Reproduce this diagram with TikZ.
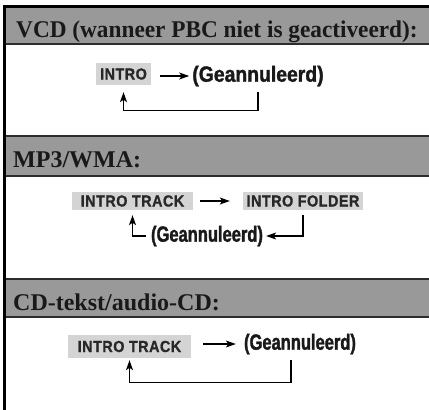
\documentclass[tikz,border=0pt]{standalone}
\usepackage{fontspec}
\setmainfont{Liberation Serif}
\newfontfamily\titleserif[FakeStretch=0.97]{Liberation Serif Bold}
\newfontfamily\condsans[FakeStretch=0.75, FakeBold=1.5]{Liberation Sans Bold}
\newfontfamily\midsans[FakeStretch=0.88, FakeBold=1.5]{Liberation Sans Bold}
\newfontfamily\boxsans[FakeStretch=0.9, FakeBold=1, LetterSpace=3]{Liberation Sans Bold}
\usepackage{xcolor}
\usepackage{tikz}
\usetikzlibrary{arrows.meta, positioning, calc}
\definecolor{headgray}{RGB}{153,153,153}
\definecolor{boxgray}{RGB}{212,212,212}
\definecolor{rulegray}{RGB}{45,45,45}
\definecolor{inkgray}{RGB}{40,40,40}

\begin{document}
\begin{tikzpicture}[x=1pt, y=-1pt,
    header/.style={fill=headgray, draw=rulegray, line width=1.6pt},
    title/.style={anchor=base west, inner sep=0pt, text=black!90, font=\fontsize{24}{24}\selectfont\bfseries},
    mode/.style={fill=boxgray, inner sep=0pt, text=inkgray, font=\boxsans\fontsize{16}{16}\selectfont},
    state/.style={inner sep=0pt, text=black!90, font=\condsans\fontsize{22}{22}\selectfont},
    flow/.style={line width=1.2pt, -{Stealth[length=10pt, width=7pt, inset=2.5pt]}},
    ]
\useasboundingbox (0,0) rectangle (429,410);
\clip (0,0) rectangle (429,410);

\draw[header] (5,7) rectangle (435,44);
\draw[header] (5,136) rectangle (435,176);
\draw[header] (5,279) rectangle (435,317);
\draw[line width=2.4pt] (4.5,412) -- (4.5,6.5) -- (435,6.5);

\node[title, font=\titleserif\fontsize{24}{24}\selectfont] (vcd) at (16,37) {VCD (wanneer PBC niet is geactiveerd):};
\node[title] (mp3) at (13,167) {MP3/WMA:};
\node[title] (cdtext) at (13,310) {CD-tekst/audio-CD:};

% VCD
\node[mode, minimum width=55pt, minimum height=22pt] (intro) at (123.5,74) {INTRO};
\node[state, font=\midsans\fontsize{22}{22}\selectfont] (cancel1) at (258,76) {(Geannuleerd)};
\draw[flow, shorten <=9pt, shorten >=3pt] (intro.east |- cancel1.west) -- (cancel1.west);
\draw[flow, shorten <=6pt, shorten >=7pt] (cancel1.south) -- ++(0,24) -| (intro.south);

% MP3/WMA
\node[mode, minimum width=121pt, minimum height=18pt] (track) at (132.5,201) {INTRO TRACK};
\node[mode, minimum width=120pt, minimum height=18pt] (folder) at (303,201) {INTRO FOLDER};
\node[state] (cancel2) at (207,236) {(Geannuleerd)};
\draw[flow, shorten <=7pt, shorten >=13pt] (track) -- (folder);
\draw[flow, shorten <=5pt, shorten >=5pt] (cancel2.west) -| (track.south);
\draw[flow, shorten <=5pt, shorten >=3pt] (folder.south) |- (cancel2.east);

% CD-tekst
\node[mode, minimum width=123pt, minimum height=23pt] (track3) at (129.5,346.5) {INTRO TRACK};
\node[state] (cancel3) at (300,344) {(Geannuleerd)};
\draw[flow, shorten <=12pt, shorten >=8pt] (track3.east |- cancel3.west) -- (cancel3.west);
\draw[flow, shorten <=6pt, shorten >=2pt] ([xshift=-9pt]cancel3.south) -- ++(0,28) -| (track3.south);
\end{tikzpicture}
\end{document}
